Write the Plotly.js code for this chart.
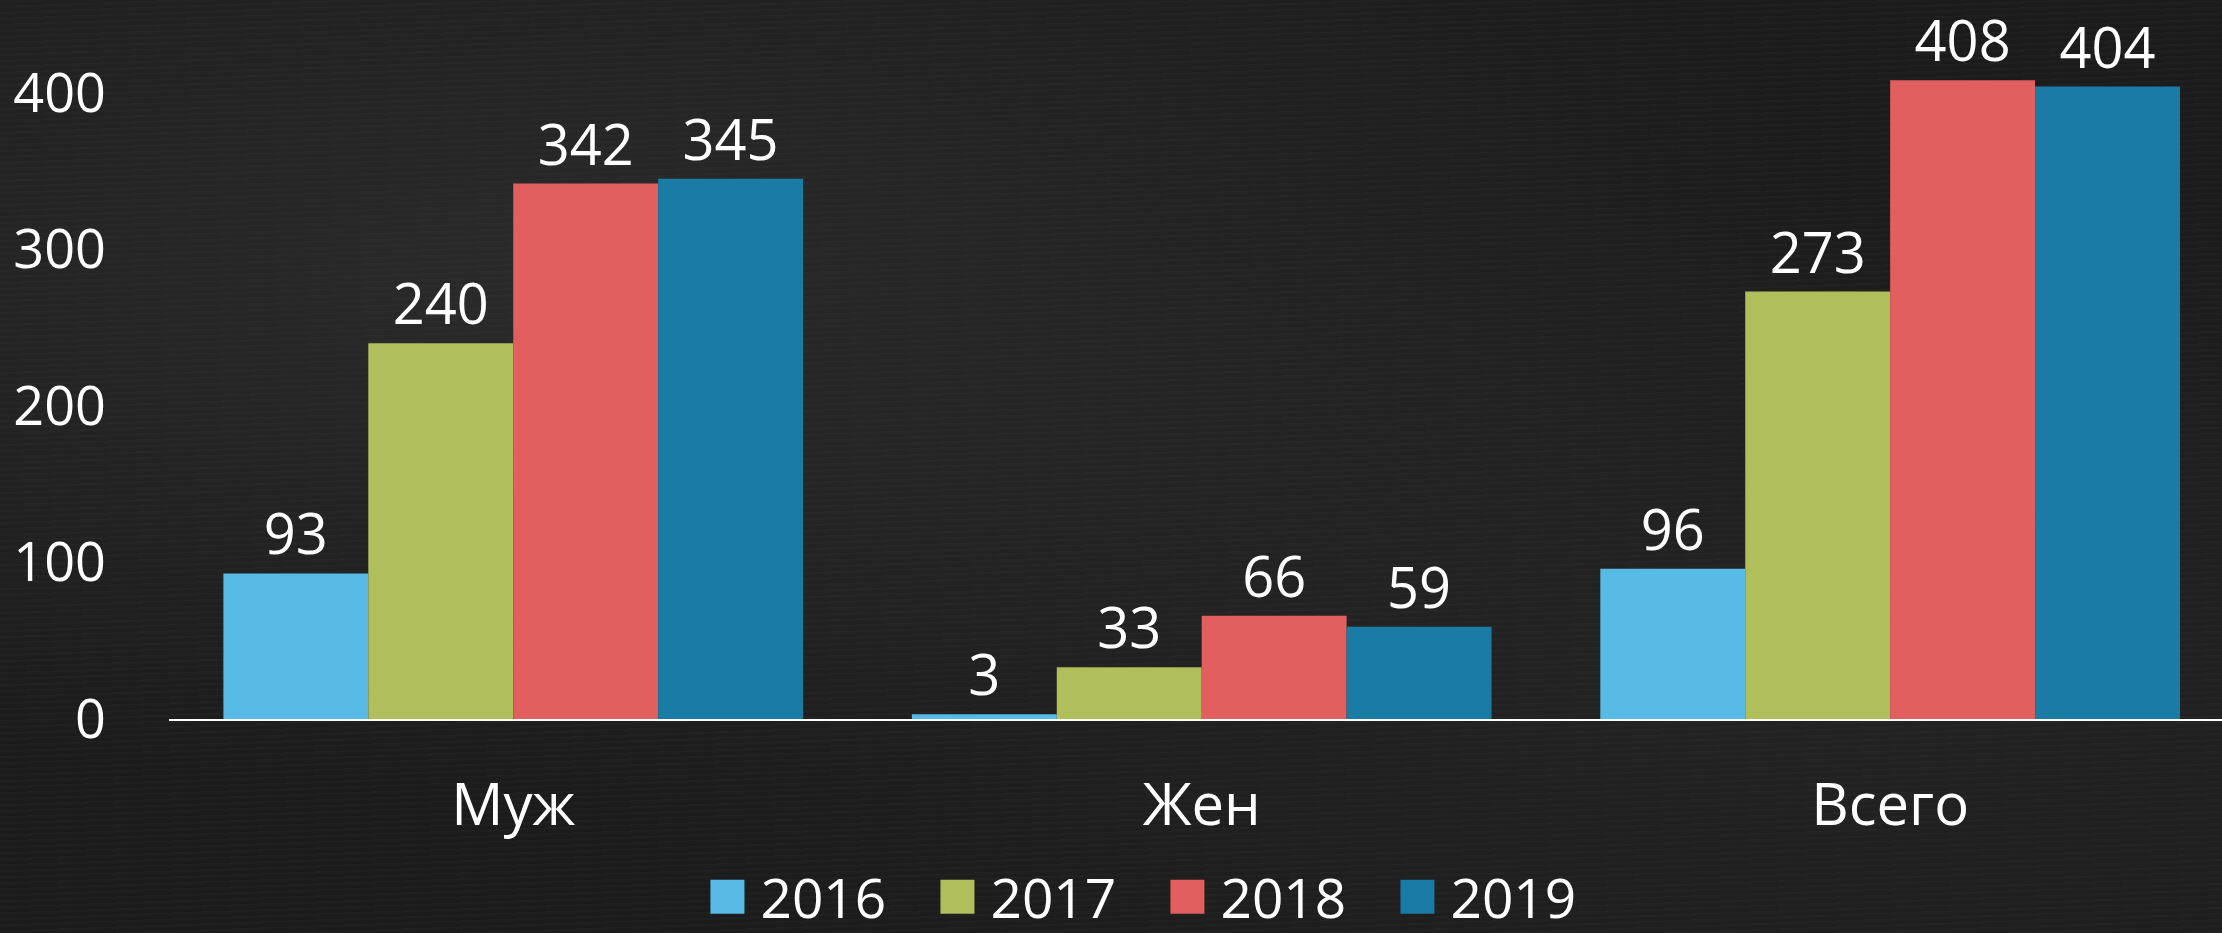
<!DOCTYPE html>
<html>
<head>
<meta charset="utf-8">
<script src="https://cdn.plot.ly/plotly-3.0.1.min.js"></script>
<style>
  html, body {
    margin: 0;
    padding: 0;
    width: 2222px;
    height: 933px;
    overflow: hidden;
    background-color: #1c1c1c;
    background-image:
      radial-gradient(ellipse at 25% 30%, rgba(70,70,70,0.35) 0%, rgba(0,0,0,0) 55%),
      radial-gradient(ellipse at 80% 70%, rgba(60,60,60,0.25) 0%, rgba(0,0,0,0) 50%),
      repeating-linear-gradient(178deg, rgba(255,255,255,0.025) 0px, rgba(255,255,255,0) 3px, rgba(0,0,0,0.05) 6px);
  }
  #chart { width: 2222px; height: 933px; }
</style>
</head>
<body>
<div id="chart"></div>
<script>
// categories and series
const categories = ["Муж", "Жен", "Всего"];
const years = ["2016", "2017", "2018", "2019"];
const values2016 = [93, 3, 96];
const values2017 = [240, 33, 273];
const values2018 = [342, 66, 408];
const values2019 = [345, 59, 404];
const seriesColors = ["#57bbe5", "#b0bf5c", "#e25f60", "#1a7ca5"];
const yTicks = [0, 100, 200, 300, 400];

const FONT = '"Open Sans", "DejaVu Sans", sans-serif';

const allValues = [values2016, values2017, values2018, values2019];

const traces = years.map((yr, i) => ({
  type: "bar",
  name: yr,
  x: categories,
  y: allValues[i],
  text: allValues[i].map(String),
  textposition: "outside",
  cliponaxis: false,
  constraintext: "none",
  textfont: { family: FONT, size: 56, color: "#ffffff" },
  marker: { color: seriesColors[i], line: { width: 0 } },
  hoverinfo: "x+y+name"
}));

const layout = {
  width: 2222,
  height: 933,
  paper_bgcolor: "rgba(0,0,0,0)",
  plot_bgcolor: "rgba(0,0,0,0)",
  // keep the plot box fixed, legend sits in the bottom margin
  margin: { l: 169, r: 0, t: 40, b: 214, autoexpand: false },
  barmode: "group",
  bargap: 0.158,
  bargroupgap: 0,
  font: { family: FONT, color: "#ffffff" },
  xaxis: {
    type: "category",
    range: [-0.5, 2.482],
    showgrid: false,
    zeroline: false,
    showline: true,
    linecolor: "#ffffff",
    linewidth: 2,
    ticks: "",
    ticklabelstandoff: 34,
    tickfont: { family: FONT, size: 58, color: "#ffffff" }
  },
  yaxis: {
    range: [0, 433.7],
    tickvals: yTicks,
    ticktext: yTicks.map(String),
    showgrid: false,
    zeroline: false,
    showline: false,
    ticks: "",
    ticklabelstandoff: 62,
    tickfont: { family: FONT, size: 54, color: "#ffffff" }
  },
  showlegend: true,
  legend: {
    orientation: "h",
    x: 0.48,
    xanchor: "center",
    y: -0.262,
    yanchor: "middle",
    font: { family: FONT, size: 55, color: "#ffffff" },
    itemwidth: 56,
    entrywidth: 159,
    entrywidthmode: "pixels",
    bgcolor: "rgba(0,0,0,0)"
  }
};

Plotly.newPlot("chart", traces, layout, { displayModeBar: false, staticPlot: true }).then(gd => {
  // enlarge the legend swatches to the big squares of the original
  gd.querySelectorAll(".legendpoints path").forEach(p => {
    p.setAttribute("d", "M17,17H-17V-17H17Z");
  });
});
</script>
</body>
</html>
